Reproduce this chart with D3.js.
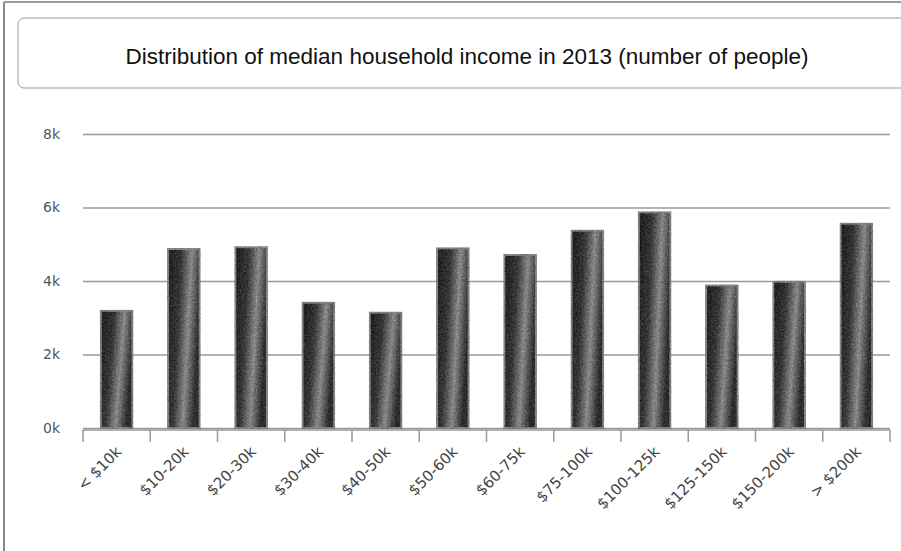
<!DOCTYPE html>
<html>
<head>
<meta charset="utf-8">
<script src="https://cdn.jsdelivr.net/npm/d3@7"></script>
<style>
  body { margin: 0; background: #fff; }
  svg { display: block; }
</style>
</head>
<body>
<div id="chart"></div>
<script>
// data
const categories = ["< $10k", "$10-20k", "$20-30k", "$30-40k", "$40-50k", "$50-60k",
  "$60-75k", "$75-100k", "$100-125k", "$125-150k", "$150-200k", "> $200k"];
const people = [3190, 4870, 4920, 3410, 3140, 4890, 4710, 5370, 5870, 3880, 3980, 5560];
const yTicks = [0, 2000, 4000, 6000, 8000];

const width = 901, height = 551;
const margin = {top: 134, right: 11, bottom: 123, left: 83};

const svg = d3.select("#chart").append("svg")
    .attr("width", width)
    .attr("height", height)
    .style("font-family", "Liberation Sans, Arial, sans-serif");

// outer frame of the scan
svg.append("line").attr("x1", 4).attr("x2", 4).attr("y1", 2).attr("y2", height)
    .attr("stroke", "#8a8a8a").attr("stroke-width", 2);
svg.append("line").attr("x1", 4).attr("x2", width).attr("y1", 2).attr("y2", 2)
    .attr("stroke", "#9a9a9a").attr("stroke-width", 2);

// title box
svg.append("rect")
    .attr("x", 18).attr("y", 18)
    .attr("width", 900).attr("height", 70)
    .attr("rx", 6)
    .attr("fill", "none")
    .attr("stroke", "#999");

svg.append("text")
    .attr("x", 467).attr("y", 64)
    .attr("text-anchor", "middle")
    .attr("font-size", 22.5)
    .attr("fill", "#111")
    .text("Distribution of median household income in 2013 (number of people)");

const x = d3.scaleBand()
    .domain(categories)
    .range([margin.left, width - margin.right])
    .paddingInner(0.53)
    .paddingOuter(0.265);

const y = d3.scaleLinear()
    .domain([0, 8000])
    .range([428, margin.top]);

// gridlines + y labels
const yAxis = d3.axisLeft(y)
    .tickValues(yTicks)
    .tickSize(-(width - margin.right - margin.left))
    .tickFormat(d => (d / 1000) + "k");

svg.append("g")
    .attr("transform", `translate(${margin.left},0)`)
    .call(yAxis)
    .call(g => g.select(".domain").remove())
    .call(g => g.selectAll(".tick line").attr("stroke", "#9a9a9a").attr("stroke-width", 1.5))
    .call(g => g.selectAll(".tick text")
        .attr("x", -23)
        .attr("font-size", 14)
        .attr("font-family", "DejaVu Sans, sans-serif")
        .attr("fill", "#555"));

// bar texture: diagonal shading plus a speckle filter to look like the scan
const defs = svg.append("defs");
const grad = defs.append("linearGradient")
    .attr("id", "barfill")
    .attr("x1", "0").attr("y1", "0").attr("x2", "1").attr("y2", "0.3");
grad.append("stop").attr("offset", "0%").attr("stop-color", "#3c3c3c");
grad.append("stop").attr("offset", "40%").attr("stop-color", "#555");
grad.append("stop").attr("offset", "70%").attr("stop-color", "#a8a8a8");
grad.append("stop").attr("offset", "100%").attr("stop-color", "#4c4c4c");

const speckle = defs.append("filter").attr("id", "speckle")
    .attr("color-interpolation-filters", "sRGB");
speckle.append("feTurbulence")
    .attr("type", "fractalNoise").attr("baseFrequency", 0.55)
    .attr("numOctaves", 2).attr("seed", 3).attr("result", "noise");
speckle.append("feColorMatrix")
    .attr("in", "noise").attr("type", "saturate").attr("values", 0).attr("result", "gnoise");
speckle.append("feComposite")
    .attr("in", "SourceGraphic").attr("in2", "gnoise")
    .attr("operator", "arithmetic")
    .attr("k1", 0).attr("k2", 1).attr("k3", 0.6).attr("k4", -0.3)
    .attr("result", "mix");
speckle.append("feComposite")
    .attr("in", "mix").attr("in2", "SourceGraphic").attr("operator", "in");

svg.append("g")
  .selectAll("rect")
  .data(people)
  .join("rect")
    .attr("x", (d, i) => x(categories[i]))
    .attr("y", d => y(d))
    .attr("width", x.bandwidth())
    .attr("height", d => y(0) - y(d))
    .attr("fill", "url(#barfill)")
    .attr("filter", "url(#speckle)")
    .attr("stroke", "#a0a0a0")
    .attr("stroke-width", 2);

// x axis with ticks at band boundaries
const xAxisG = svg.append("g")
    .attr("transform", `translate(0,${y(0) + 2})`);

xAxisG.append("line")
    .attr("x1", margin.left).attr("x2", width - margin.right)
    .attr("stroke", "#999").attr("stroke-width", 1.5);

const bounds = categories.map(c => x(c) - x.step() * x.paddingInner() / 2);
bounds.push(width - margin.right);
xAxisG.selectAll(".bound")
  .data(bounds)
  .join("line")
    .attr("class", "bound")
    .attr("x1", d => d).attr("x2", d => d)
    .attr("y1", 0).attr("y2", 12)
    .attr("stroke", "#999").attr("stroke-width", 1.5);

xAxisG.selectAll(".lbl")
  .data(categories)
  .join("text")
    .attr("class", "lbl")
    .attr("transform", d => `translate(${x(d) + x.bandwidth() / 2 + 2},${19}) rotate(-45)`)
    .attr("text-anchor", "end")
    .attr("dy", "0.35em")
    .attr("font-size", 15)
    .attr("font-family", "DejaVu Sans, sans-serif")
    .attr("fill", "#444")
    .text(d => d);
</script>
</body>
</html>
